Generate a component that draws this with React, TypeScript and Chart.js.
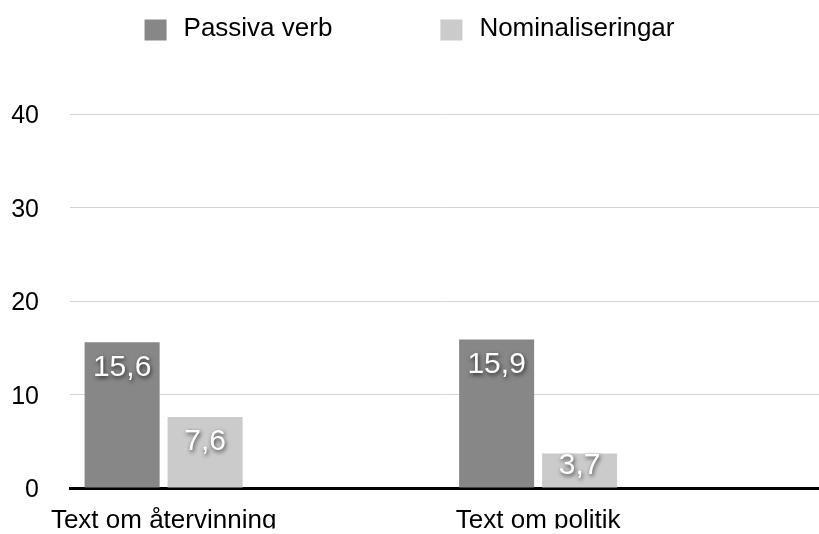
import React, { useEffect, useRef } from 'react';
import { Chart, registerables } from 'chart.js';

Chart.register(...registerables);

// ---- data ----
const categories = ['Text om återvinning', 'Text om politik'];
const seriesNames = ['Passiva verb', 'Nominaliseringar'];
const passivaVerb = [15.6, 15.9];
const nominaliseringar = [7.6, 3.7];
const yTickValues = [0, 10, 20, 30, 40];

// ---- styling / layout ----
const seriesColors = ['#878787', '#cbcbcb'];
const FONT = '"Liberation Sans", Arial, Helvetica, sans-serif';
// evenly spaced slots on a non-offset category axis; the two groups sit on slots 1 and 5
const SLOT_COUNT = 9;
const GROUP_SLOTS = [1, 5];

function spread<T>(values: T[], fill: T): T[] {
  const out: T[] = new Array(SLOT_COUNT).fill(fill);
  GROUP_SLOTS.forEach((s, i) => {
    out[s] = values[i];
  });
  return out;
}

const legendPlugin = {
  id: 'topLegend',
  afterDraw(chart: any) {
    const ctx = chart.ctx;
    ctx.save();
    ctx.font = `26px ${FONT}`;
    const boxW = 22;
    const boxH = 21;
    const gapText = 17;
    const gapItem = 108;
    const items = chart.data.datasets.map((ds: any) => ({
      text: ds.label,
      color: ds.backgroundColor,
      w: ctx.measureText(ds.label).width,
    }));
    const total =
      items.reduce((a: number, it: any) => a + boxW + gapText + it.w, 0) +
      gapItem * (items.length - 1);
    let x = (chart.width - total) / 2;
    const cy = 30;
    items.forEach((it: any) => {
      ctx.fillStyle = it.color;
      ctx.fillRect(x, cy - boxH / 2, boxW, boxH);
      ctx.fillStyle = '#000';
      ctx.textBaseline = 'middle';
      ctx.textAlign = 'left';
      ctx.fillText(it.text, x + boxW + gapText, cy - 1.5);
      x += boxW + gapText + it.w + gapItem;
    });
    ctx.restore();
  },
};

const valueLabelPlugin = {
  id: 'valueLabels',
  afterDatasetsDraw(chart: any) {
    const ctx = chart.ctx;
    ctx.save();
    ctx.font = `30px ${FONT}`;
    ctx.textAlign = 'center';
    ctx.textBaseline = 'middle';
    ctx.fillStyle = '#ffffff';
    ctx.shadowColor = 'rgba(0,0,0,0.7)';
    ctx.shadowBlur = 4;
    ctx.shadowOffsetX = 1;
    ctx.shadowOffsetY = 2;
    chart.data.datasets.forEach((ds: any, di: number) => {
      const meta = chart.getDatasetMeta(di);
      meta.data.forEach((el: any, i: number) => {
        const v = ds.data[i];
        if (v === null || v === undefined) return;
        const { x, y, base } = el.getProps(['x', 'y', 'base'], true);
        const off = Math.min(25, (base - y) * 0.36);
        ctx.fillText(String(v).replace('.', ','), x, y + off);
      });
    });
    ctx.restore();
  },
};

export default function App() {
  const canvasRef = useRef<HTMLCanvasElement | null>(null);

  useEffect(() => {
    if (!canvasRef.current) return;
    const chart = new Chart(canvasRef.current, {
      type: 'bar',
      data: {
        labels: spread<string>(categories, ''),
        datasets: [
          {
            label: seriesNames[0],
            data: spread<number | null>(passivaVerb, null),
            backgroundColor: seriesColors[0],
            borderWidth: 0,
          },
          {
            label: seriesNames[1],
            data: spread<number | null>(nominaliseringar, null),
            backgroundColor: seriesColors[1],
            borderWidth: 0,
          },
        ],
      },
      options: {
        responsive: false,
        animation: false,
        events: [],
        categoryPercentage: 1.773,
        barPercentage: 0.904,
        layout: { padding: { top: 114.5, left: 0, right: 0, bottom: 0 } },
        plugins: {
          legend: { display: false },
          tooltip: { enabled: false },
        },
        scales: {
          x: {
            type: 'category',
            offset: false,
            z: 1,
            grid: { display: false },
            border: { display: true, color: '#000000', width: 3 },
            ticks: {
              autoSkip: false,
              maxRotation: 0,
              minRotation: 0,
              color: '#000000',
              font: { size: 26, family: FONT },
              padding: 9,
            },
            afterFit: (s: any) => {
              s.height = 40.5;
              s.paddingLeft = 0;
              s.paddingRight = 0;
            },
          },
          y: {
            min: 0,
            max: 40,
            grid: { color: '#d5d5d5', lineWidth: 1, drawTicks: false },
            border: { display: false },
            ticks: {
              stepSize: 10,
              color: '#000000',
              font: { size: 25, family: FONT },
              padding: 31,
              labelOffset: 2,
            },
            afterBuildTicks: (s: any) => {
              s.ticks = yTickValues.map((v) => ({ value: v }));
            },
            afterFit: (s: any) => {
              s.width = 70;
            },
          },
        },
      } as any,
      plugins: [legendPlugin, valueLabelPlugin],
    });
    return () => chart.destroy();
  }, []);

  return (
    <div style={{ position: 'absolute', left: 0, top: 0, width: 819, height: 534, background: '#fff' }}>
      <canvas ref={canvasRef} width={819} height={534} style={{ display: 'block' }} />
    </div>
  );
}
